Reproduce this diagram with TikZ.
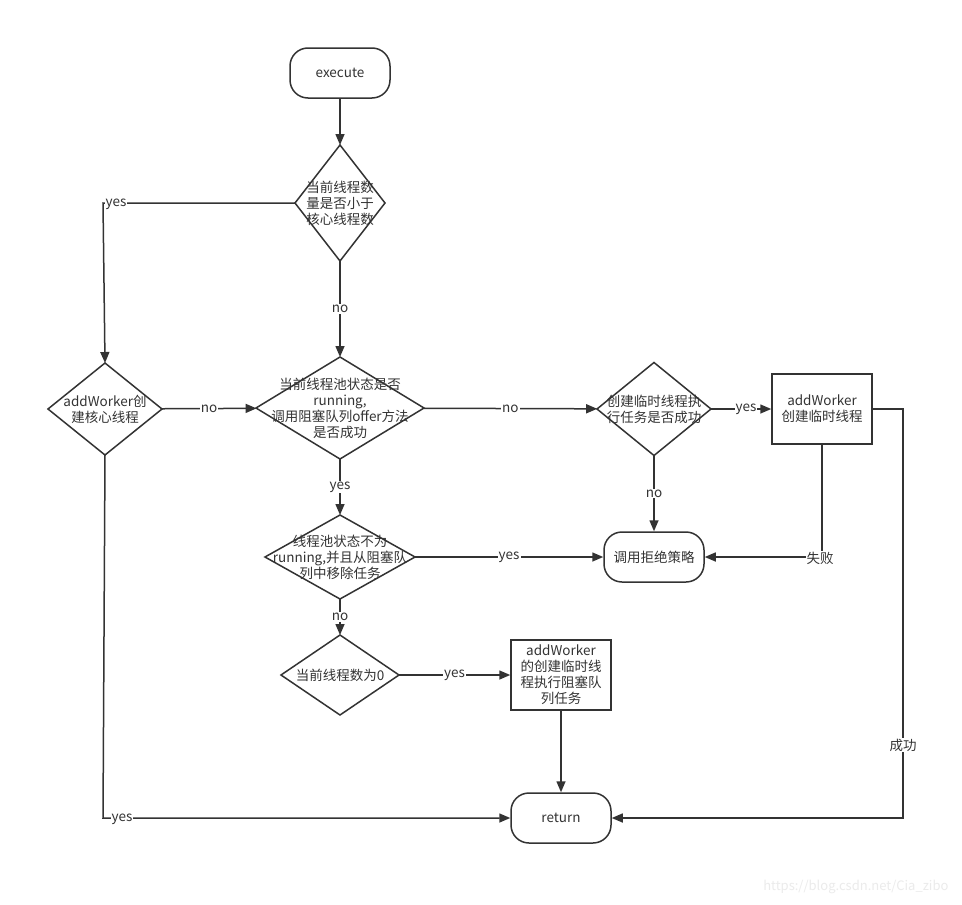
\documentclass[tikz,border=0pt]{standalone}
\usepackage{fontspec}
\setmainfont{Noto Sans CJK SC}
\usetikzlibrary{arrows.meta,shapes.geometric}
\definecolor{ln}{HTML}{333333}
\begin{document}
\begin{tikzpicture}[x=1pt,y=-1pt,
  font=\fontsize{13.5}{16}\selectfont,
  every node/.style={text=ln},
  term/.style={draw=ln,line width=1.5pt,rounded corners=18pt,minimum width=100pt,minimum height=50pt,inner sep=0pt},
  box/.style={draw=ln,line width=1.5pt,minimum width=100pt,minimum height=70pt,inner sep=0pt,align=center},
  dia/.style={diamond,draw=ln,line width=1.5pt,inner sep=0pt,outer sep=0pt},
  conn/.style={draw=ln,line width=1.5pt,-{Triangle[length=11pt,width=9pt]}},
  lab/.style={fill=white,inner sep=1pt}]
\fill[white] (0,0) rectangle (962,905);
\useasboundingbox (0,0) rectangle (962,905);

\node[term] (exe) at (340,73) {execute};
\node[dia,minimum width=90pt,minimum height=116pt,label={[align=center]center:当前线程数\\量是否小于\\核心线程数}] (d1) at (340,203) {};
\node[dia,minimum width=114pt,minimum height=92pt,label={[align=center]center:addWorker创\\建核心线程}] (d2) at (105,409) {};
\node[dia,minimum width=168pt,minimum height=102pt,label={[align=center]center:当前线程池状态是否\\running,\\调用阻塞队列offer方法\\是否成功}] (d3) at (340,408) {};
\node[dia,minimum width=114pt,minimum height=93pt,label={[align=center]center:创建临时线程执\\行任务是否成功}] (d4) at (654,409) {};
\node[box] (b1) at (822,409) {addWorker\\创建临时线程};
\node[term] (rej) at (654,557) {调用拒绝策略};
\node[dia,minimum width=150pt,minimum height=84pt,label={[align=center]center:线程池状态不为\\running,并且从阻塞队\\列中移除任务}] (d5) at (340,557) {};
\node[dia,minimum width=118pt,minimum height=80pt,label={[align=center]center:当前线程数为0}] (d6) at (340,675) {};
\node[box] (b2) at (561,675) {addWorker\\的创建临时线\\程执行阻塞队\\列任务};
\node[term] (ret) at (561,818) {return};

\coordinate (c1) at (103,203);
\coordinate (c2) at (103,818);
\coordinate (c3) at (822,557);
\coordinate (c4) at (903,409);
\coordinate (c5) at (903,818);

\draw[conn] (exe) -- (d1);
\draw[conn] (d1.west) -- (c1) -- (d2.north);
\node[lab] at (116,204) {yes};
\draw[conn] (d1) -- node[lab] {no} (d3);
\draw[conn] (d2) -- node[lab] {no} (d3);
\draw[conn] (d2.south) -- (c2) -- (ret.west);
\node[lab] at (122,819) {yes};
\draw[conn] (d3) -- node[lab,pos=0.5] {no} (d4);
\draw[conn] (d3) -- node[lab] {yes} (d5);
\draw[conn] (d4) -- node[lab,pos=0.58] {yes} (b1);
\draw[conn] (d4) -- node[lab] {no} (rej);
\draw[conn] (b1.south) -- (c3) -- (rej.east);
\node[lab] at (820,558) {失败};
\draw[conn] (b1.east) -- (c4) -- (c5) -- (ret.east);
\node[lab] at (903,745) {成功};
\draw[conn] (d5) -- node[lab] {yes} (rej);
\draw[conn] (d5) -- node[lab] {no} (d6);
\draw[conn] (d6) -- node[lab] {yes} (b2);
\draw[conn] (b2) -- (ret);

\node[text=black!8,font=\fontsize{13}{15}\selectfont,anchor=east] (wm) at (952,887) {https://blog.csdn.net/Cia\_zibo};
\end{tikzpicture}
\end{document}
